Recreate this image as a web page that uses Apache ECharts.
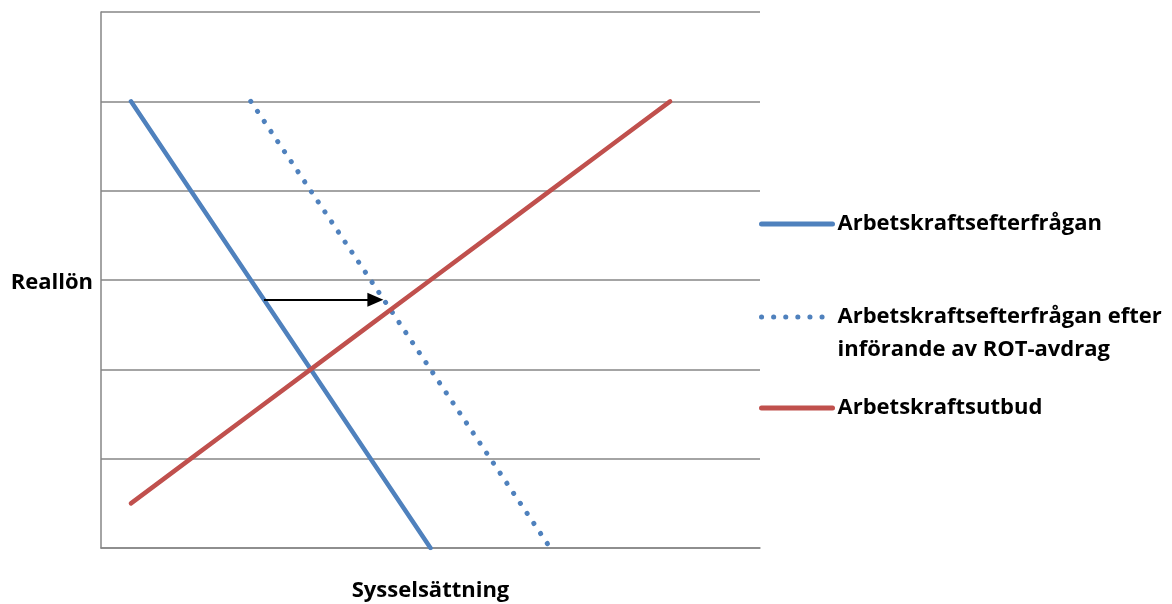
<!DOCTYPE html>
<html>
<head>
<meta charset="utf-8">
<script src="https://cdn.jsdelivr.net/npm/echarts@6/dist/echarts.min.js"></script>
<style>
  html, body { margin: 0; padding: 0; background: #fff; }
  #chart { width: 1172px; height: 604px; }
</style>
</head>
<body>
<div id="chart"></div>
<script>
// Employment positions (x) and real wage levels (y) for each curve
const positions = [0, 1, 2, 3, 4, 5, 6, 7, 8, 9, 10];
const demand = [5, 4, 3, 2, 1, 0, null, null, null, null, null];
const demandAfterROT = [null, null, 5, 4, 3, 2, 1, 0, null, null, null];
const supply = [0.5, 1, 1.5, 2, 2.5, 3, 3.5, 4, 4.5, 5, null];
const wageTicks = [0, 1, 2, 3, 4, 5, 6];

// Shift of demand: arrow from the old curve towards the new one
const shiftWage = 2.78;
const shiftFrom = 2.22;
const shiftTo = 4.08;

const names = [
  'Arbetskraftsefterfrågan',
  'Arbetskraftsefterfrågan efter\ninförande av ROT-avdrag',
  'Arbetskraftsutbud'
];

function pairs(values) {
  return positions.map((x, i) => [x, values[i]]).filter(p => p[1] !== null);
}

const font = 'Open Sans';
const grey = '#868686';
const blue = '#4F81BD';
const red = '#C0504D';
const dotted = [0.1, 12];
const legendText = { fontFamily: font, fontWeight: 'bold', fontSize: 22, color: '#000', lineHeight: 30 };

function legendFor(name, top, lineStyle, text) {
  return {
    data: [{ name: name, itemStyle: { opacity: 0 }, lineStyle: lineStyle }],
    left: 759, top: top, padding: 0,
    itemWidth: 71, itemHeight: 14, itemGap: 6,
    textStyle: text || legendText
  };
}

const chart = echarts.init(document.getElementById('chart'), null, { renderer: 'canvas' });
chart.setOption({
  animation: false,
  grid: { left: 101, right: 412, top: 12, bottom: 56, outerBoundsMode: 'none', containLabel: false },
  xAxis: {
    type: 'value',
    min: -0.5,
    max: 10.5,
    name: 'Sysselsättning',
    nameLocation: 'middle',
    nameGap: 32,
    nameTextStyle: { fontFamily: font, fontWeight: 'bold', fontSize: 22, color: '#000' },
    axisLine: { show: true, onZero: false, lineStyle: { color: grey, width: 1.5 } },
    axisTick: { show: false },
    axisLabel: { show: false },
    splitLine: { show: false }
  },
  yAxis: {
    type: 'value',
    min: wageTicks[0],
    max: wageTicks[wageTicks.length - 1],
    interval: 1,
    name: 'Reallön',
    nameLocation: 'middle',
    nameRotate: 0,
    nameGap: 8,
    nameTextStyle: {
      fontFamily: font, fontWeight: 'bold', fontSize: 22, color: '#000',
      align: 'right', verticalAlign: 'top', lineHeight: 6
    },
    axisLine: { show: true, onZero: false, lineStyle: { color: grey, width: 1.5 } },
    axisTick: { show: false },
    axisLabel: { show: false },
    splitLine: { show: true, lineStyle: { color: grey, width: 1.5 } }
  },
  legend: [
    legendFor(names[0], 209, { color: blue, width: 5, cap: 'round' }),
    legendFor(names[1], 267.5, { color: blue, width: 5, cap: 'round', type: dotted },
      Object.assign({}, legendText, { lineHeight: 33 })),
    legendFor(names[2], 393, { color: red, width: 5, cap: 'round' })
  ],
  series: [
    {
      name: names[0],
      type: 'line',
      data: pairs(demand),
      showSymbol: false,
      symbol: 'none',
      lineStyle: { color: blue, width: 4.5, cap: 'round' },
      itemStyle: { color: blue }
    },
    {
      name: names[1],
      type: 'line',
      data: pairs(demandAfterROT),
      showSymbol: false,
      symbol: 'none',
      lineStyle: { color: blue, width: 5, cap: 'round', type: dotted },
      itemStyle: { color: blue }
    },
    {
      name: names[2],
      type: 'line',
      data: pairs(supply),
      showSymbol: false,
      symbol: 'none',
      lineStyle: { color: red, width: 4.5, cap: 'round' },
      itemStyle: { color: red }
    },
    {
      name: 'skift',
      type: 'line',
      data: [],
      markLine: {
        silent: true,
        animation: false,
        symbol: ['none', 'triangle'],
        symbolSize: [14, 16],
        label: { show: false },
        lineStyle: { color: '#000', width: 2, type: 'solid' },
        itemStyle: { color: '#000' },
        data: [[{ coord: [shiftFrom, shiftWage] }, { coord: [shiftTo, shiftWage] }]]
      }
    }
  ]
});

// The two-line legend entry keeps its marker level with the first text line
chart.setOption({
  legend: [{}, { formatter: function (n) { return '\n' + n; } }, {}]
});
</script>
</body>
</html>
